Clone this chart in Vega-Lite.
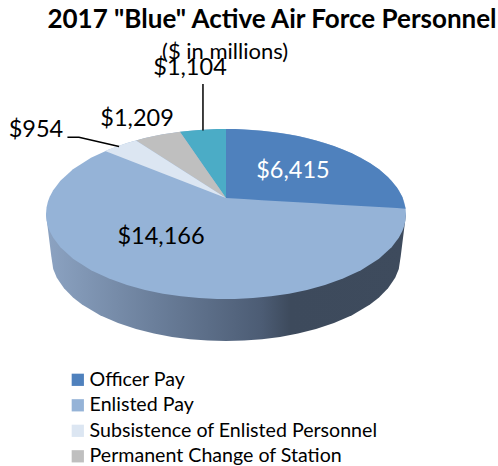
{
"$schema":"https://vega.github.io/schema/vega-lite/v6.json",
"width":498,"height":426,"autosize":{"type":"none"},
"padding":{"top":40,"left":0,"right":0,"bottom":0},
"background":"white",
"config":{"view":{"stroke":null},"font":"Lato"},
"title":{"text":"2017 \"Blue\" Active Air Force Personnel","font":"Lato","fontWeight":"bold","fontSize":26,"color":"#000000","anchor":"middle","frame":"group","dx":23,"offset":7},
"datasets":{
"slices":[
{"slice":"Officer Pay","value":6415,"u":37.2,"v":50.6},
{"slice":"Enlisted Pay","value":14166,"u":-36.1,"v":-27},
{"slice":"Subsistence of Enlisted Personnel","value":954,"u":-105.6,"v":98.8},
{"slice":"Permanent Change of Station","value":1209,"u":-49.4,"v":111.8},
{"slice":"Other","value":1104,"u":-20,"v":171.8}
],
"side":[
{"u":-100,"v":0,"v2":0},{"u":-97,"v":-50.6,"v2":0},{"u":-96,"v":-64.7,"v2":0},{"u":-94,"v":-75,"v2":0},{"u":-90,"v":-87.5,"v2":0},{"u":-85,"v":-98.2,"v2":0},{"u":-80,"v":-106.4,"v2":0},{"u":-70,"v":-119,"v2":0},{"u":-60,"v":-128.2,"v2":0},{"u":-50,"v":-135.3,"v2":0},{"u":-40,"v":-140.6,"v2":0},{"u":-30,"v":-144.6,"v2":0},{"u":-20,"v":-147.3,"v2":0},{"u":-10,"v":-148.9,"v2":0},{"u":0,"v":-149.4,"v2":0},{"u":10,"v":-148.9,"v2":0},{"u":20,"v":-147.3,"v2":0},{"u":30,"v":-144.6,"v2":0},{"u":40,"v":-140.6,"v2":0},{"u":50,"v":-135.3,"v2":0},{"u":60,"v":-128.2,"v2":0},{"u":70,"v":-119,"v2":0},{"u":80,"v":-106.4,"v2":0},{"u":85,"v":-98.2,"v2":0},{"u":90,"v":-87.5,"v2":0},{"u":94,"v":-75,"v2":0},{"u":96,"v":-64.7,"v2":0},{"u":97,"v":-50.6,"v2":0},{"u":100,"v":0,"v2":0}
],
"wedges":[
{"slice":"Enlisted Pay","u":-100,"v":0,"v2":0},{"slice":"Enlisted Pay","u":-99.7,"v":7.7,"v2":-7.7},{"slice":"Enlisted Pay","u":-99,"v":14.1,"v2":-14.1},{"slice":"Enlisted Pay","u":-98,"v":19.9,"v2":-19.9},{"slice":"Enlisted Pay","u":-96,"v":28,"v2":-28},{"slice":"Enlisted Pay","u":-92,"v":39.2,"v2":-39.2},{"slice":"Enlisted Pay","u":-85,"v":52.7,"v2":-52.7},{"slice":"Enlisted Pay","u":-75,"v":66.1,"v2":-66.1},{"slice":"Enlisted Pay","u":-65,"v":76,"v2":-76},{"slice":"Enlisted Pay","u":-55,"v":83.5,"v2":-83.5},{"slice":"Enlisted Pay","u":-45,"v":89.3,"v2":-89.3},{"slice":"Enlisted Pay","u":-35,"v":93.7,"v2":-93.7},{"slice":"Enlisted Pay","u":-25,"v":96.8,"v2":-96.8},{"slice":"Enlisted Pay","u":-15,"v":98.9,"v2":-98.9},{"slice":"Enlisted Pay","u":-5,"v":99.9,"v2":-99.9},{"slice":"Enlisted Pay","u":5,"v":99.9,"v2":-99.9},{"slice":"Enlisted Pay","u":15,"v":98.9,"v2":-98.9},{"slice":"Enlisted Pay","u":25,"v":96.8,"v2":-96.8},{"slice":"Enlisted Pay","u":35,"v":93.7,"v2":-93.7},{"slice":"Enlisted Pay","u":45,"v":89.3,"v2":-89.3},{"slice":"Enlisted Pay","u":55,"v":83.5,"v2":-83.5},{"slice":"Enlisted Pay","u":65,"v":76,"v2":-76},{"slice":"Enlisted Pay","u":75,"v":66.1,"v2":-66.1},{"slice":"Enlisted Pay","u":85,"v":52.7,"v2":-52.7},{"slice":"Enlisted Pay","u":92,"v":39.2,"v2":-39.2},{"slice":"Enlisted Pay","u":96,"v":28,"v2":-28},{"slice":"Enlisted Pay","u":98,"v":19.9,"v2":-19.9},{"slice":"Enlisted Pay","u":99,"v":14.1,"v2":-14.1},{"slice":"Enlisted Pay","u":99.7,"v":7.7,"v2":-7.7},{"slice":"Enlisted Pay","u":100,"v":0,"v2":0},
{"slice":"Officer Pay","u":0,"v":100,"v2":18.8},{"slice":"Officer Pay","u":5,"v":99.9,"v2":18.2},{"slice":"Officer Pay","u":10,"v":99.5,"v2":17.5},{"slice":"Officer Pay","u":20,"v":98,"v2":16.3},{"slice":"Officer Pay","u":30,"v":95.4,"v2":15},{"slice":"Officer Pay","u":40,"v":91.7,"v2":13.8},{"slice":"Officer Pay","u":50,"v":86.6,"v2":12.5},{"slice":"Officer Pay","u":60,"v":80,"v2":11.3},{"slice":"Officer Pay","u":70,"v":71.4,"v2":10},{"slice":"Officer Pay","u":80,"v":60,"v2":8.8},{"slice":"Officer Pay","u":85,"v":52.7,"v2":8.2},{"slice":"Officer Pay","u":90,"v":43.6,"v2":7.5},{"slice":"Officer Pay","u":95,"v":31.2,"v2":6.9},{"slice":"Officer Pay","u":98,"v":19.9,"v2":6.5},{"slice":"Officer Pay","u":99.8,"v":6.3,"v2":6.3},
{"slice":"Other","u":-25.6,"v":96.7,"v2":96.7},{"slice":"Other","u":-20,"v":98,"v2":79.7},{"slice":"Other","u":-15,"v":98.9,"v2":64.4},{"slice":"Other","u":-10,"v":99.5,"v2":49.2},{"slice":"Other","u":-5,"v":99.9,"v2":34},{"slice":"Other","u":0,"v":100,"v2":18.8},
{"slice":"Permanent Change of Station","u":-50,"v":86.6,"v2":86.6},{"slice":"Permanent Change of Station","u":-45,"v":89.3,"v2":79.8},{"slice":"Permanent Change of Station","u":-40,"v":91.7,"v2":73},{"slice":"Permanent Change of Station","u":-35,"v":93.7,"v2":66.3},{"slice":"Permanent Change of Station","u":-30,"v":95.4,"v2":59.5},{"slice":"Permanent Change of Station","u":-25.6,"v":96.7,"v2":53.5},{"slice":"Permanent Change of Station","u":-20,"v":79.7,"v2":45.9},{"slice":"Permanent Change of Station","u":-10,"v":49.2,"v2":32.4},{"slice":"Permanent Change of Station","u":0,"v":18.8,"v2":18.8},
{"slice":"Subsistence of Enlisted Personnel","u":-67.2,"v":74,"v2":74},{"slice":"Subsistence of Enlisted Personnel","u":-65,"v":76,"v2":72.2},{"slice":"Subsistence of Enlisted Personnel","u":-60,"v":80,"v2":68.1},{"slice":"Subsistence of Enlisted Personnel","u":-55,"v":83.5,"v2":64},{"slice":"Subsistence of Enlisted Personnel","u":-50,"v":86.6,"v2":59.9},{"slice":"Subsistence of Enlisted Personnel","u":-40,"v":73,"v2":51.7},{"slice":"Subsistence of Enlisted Personnel","u":-30,"v":59.5,"v2":43.4},{"slice":"Subsistence of Enlisted Personnel","u":-20,"v":45.9,"v2":35.2},{"slice":"Subsistence of Enlisted Personnel","u":-10,"v":32.4,"v2":27},{"slice":"Subsistence of Enlisted Personnel","u":0,"v":18.8,"v2":18.8}
],
"leaders":[
{"slice":"Other","u":-12.8,"v":152.9},{"slice":"Other","u":-12.8,"v":98.2},
{"slice":"Subsistence of Enlisted Personnel","u":-88.1,"v":90.2},{"slice":"Subsistence of Enlisted Personnel","u":-81.7,"v":90.2},{"slice":"Subsistence of Enlisted Personnel","u":-59.4,"v":79.4}
],
"sub":[{"text":"($ in millions)","u":-0.5,"v":190}]
},
"encoding":{
"x":{"field":"u","type":"quantitative","axis":null,"scale":{"domain":[-125.56,151.11],"nice":false,"zero":false}},
"y":{"field":"v","type":"quantitative","axis":null,"stack":null,"scale":{"domain":[-296.5,204.7],"nice":false,"zero":false}}
},
"layer":[
{"data":{"name":"side"},
 "mark":{"type":"area","fill":{"gradient":"linear","x1":0,"x2":1,"y1":0,"y2":0,"stops":[{"offset":0,"color":"#8ca3c2"},{"offset":0.3,"color":"#6b7f9b"},{"offset":0.6,"color":"#4c5c74"},{"offset":0.68,"color":"#3d4a5c"},{"offset":1,"color":"#3e4b5d"}]}},
 "encoding":{"y2":{"field":"v2"}}},
{"data":{"name":"wedges"},
 "mark":{"type":"area"},
 "encoding":{"y2":{"field":"v2"},
  "color":{"field":"slice","type":"nominal","sort":null,
   "scale":{"domain":["Officer Pay","Enlisted Pay","Subsistence of Enlisted Personnel","Permanent Change of Station","Other"],"range":["#4F81BD","#95B3D7","#DCE6F2","#BFBFBF","#4BACC6"]},
   "legend":{"title":null,"orient":"none","legendX":68,"legendY":330,"values":["Officer Pay","Enlisted Pay","Subsistence of Enlisted Personnel","Permanent Change of Station"],"symbolType":"square","symbolSize":150,"symbolStrokeWidth":0,"symbolOpacity":1,"labelFont":"Lato","labelFontSize":19.6,"labelColor":"#000000","labelLimit":400,"labelOffset":2,"rowPadding":4.5}}}},
{"data":{"name":"leaders"},
 "mark":{"type":"line","color":"#000000","strokeWidth":1.5},
 "encoding":{"detail":{"field":"slice"},"order":{"field":"u"}}},
{"data":{"name":"slices"},
 "transform":[{"filter":"datum.slice != 'Officer Pay'"}],
 "mark":{"type":"text","color":"#000000","font":"Lato","fontSize":23.5,"align":"center","baseline":"middle"},
 "encoding":{"text":{"field":"value","type":"quantitative","format":"$,.0f"}}},
{"data":{"name":"slices"},
 "transform":[{"filter":"datum.slice == 'Officer Pay'"}],
 "mark":{"type":"text","color":"#ffffff","font":"Lato","fontSize":23.5,"align":"center","baseline":"middle"},
 "encoding":{"text":{"field":"value","type":"quantitative","format":"$,.0f"}}},
{"data":{"name":"sub"},
 "mark":{"type":"text","color":"#000000","font":"Lato","fontSize":22,"align":"center","baseline":"middle"},
 "encoding":{"text":{"field":"text","type":"nominal"}}}
]
}
